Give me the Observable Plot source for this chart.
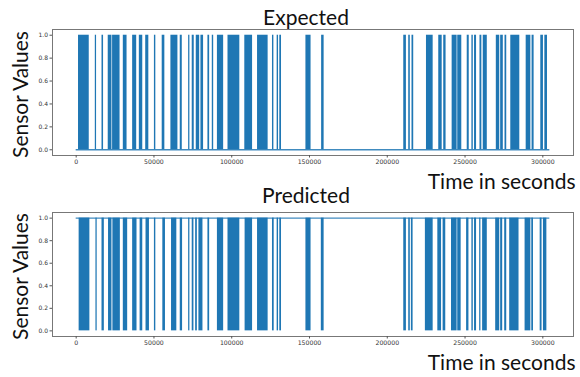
<!DOCTYPE html>
<html><head><meta charset="utf-8">
<script src="https://cdn.jsdelivr.net/npm/d3@7"></script>
<script src="https://cdn.jsdelivr.net/npm/@observablehq/plot@0.6"></script>
<style>
html,body{margin:0;padding:0;background:#fff;}
#chart{width:580px;height:377px;position:relative;overflow:hidden;background:#fff;}
#chart svg{display:block;}
</style></head><body><div id="chart"></div>
<script>
// time span of both recorded series (seconds)
const timeSpan = [0, 304500];
// intervals where the Expected sensor signal is active (seconds)
const expectedOn = [
  [1500, 8400], [12300, 13100], [16600, 17600], [20600, 23000], [23400, 28200],
  [30300, 32700], [36300, 38900], [40600, 42800], [44700, 46700], [50300, 51200],
  [55300, 57000], [60900, 65400], [66900, 68200], [72300, 73100], [74600, 75900],
  [77200, 79400], [80200, 81900], [84700, 85800], [87500, 88400], [90800, 94800],
  [97600, 105200], [108400, 113400], [116600, 123400], [126200, 127100], [129200, 130100],
  [130900, 132000], [147700, 151000], [157800, 159400], [210600, 212300], [213800, 214800],
  [215900, 217000], [225200, 229500], [233100, 235300], [236300, 237800], [241700, 244900],
  [245300, 247900], [251400, 252700], [254400, 255300], [256100, 257400], [259600, 260800],
  [261700, 264300], [270100, 272300], [272900, 274600], [275700, 276800], [279400, 285200],
  [289300, 292300], [293100, 294400], [298700, 300400], [301300, 303000]
];
// intervals where the Predicted sensor signal toggles (seconds)
const predictedOn = [
  [1900, 8800], [12700, 13500], [16600, 18100], [20800, 23000], [23600, 28400],
  [30300, 33100], [36300, 39100], [41100, 42800], [44900, 47100], [50300, 51200],
  [55700, 57400], [61300, 64700], [66900, 68400], [72300, 73100], [74600, 75700],
  [76800, 77900], [78900, 81500], [84700, 85800], [90800, 94800], [97600, 105200],
  [108600, 113400], [116600, 123400], [126200, 127300], [129200, 130100], [130900, 132000],
  [147700, 151000], [157600, 159400], [210600, 212300], [213800, 214800], [215500, 216600],
  [224500, 229500], [232500, 234900], [235900, 237600], [241300, 244900], [245300, 247500],
  [251000, 252500], [254400, 255300], [256100, 257400], [259400, 260200], [261300, 264300],
  [269700, 272300], [272900, 274200], [275500, 276800], [278700, 284700], [288600, 292300],
  [292900, 294000], [298300, 299500], [300400, 302600]
];
const expectedBaseline = [0];
const predictedBaseline = [1];
const xTicks = [0, 50000, 100000, 150000, 200000, 250000, 300000];
const yTicks = [0, 0.2, 0.4, 0.6, 0.8, 1.0];
const titles = ["Expected", "Predicted"];
const xLabel = ["Time in seconds"];
const yLabel = ["Sensor Values"];

const blue = "#1f77b4";
const labelFont = "Lato, 'Open Sans', sans-serif";

function panel({title, intervals, baseline, height, marginTop, marginBottom, titleDy}) {
  return Plot.plot({
    width: 580, height, marginTop, marginBottom, marginLeft: 52, marginRight: 7,
    style: {background: "transparent", overflow: "visible", fontFamily: "DejaVu Sans, sans-serif"},
    x: {domain: [-15225, 319725]},
    y: {domain: [-0.05, 1.05]},
    marks: [
      Plot.rect(intervals, {x1: d => d[0], x2: d => d[1], y1: 0, y2: 1, fill: blue}),
      Plot.ruleY(baseline, {x1: timeSpan[0], x2: timeSpan[1], stroke: blue, strokeWidth: 1.3, strokeOpacity: 0.85}),
      Plot.frame({stroke: "#777", strokeWidth: 1}),
      Plot.axisY({ticks: yTicks, tickFormat: d3.format(".1f"), tickSize: 2.5, tickPadding: 2, fontSize: 6, label: null, stroke: "#555", fill: "#333"}),
      Plot.axisX({ticks: xTicks, tickFormat: d => String(d), tickSize: 2.5, tickPadding: 2, fontSize: 6.2, label: null, stroke: "#555", fill: "#333"}),
      Plot.text([title], {frameAnchor: "top", lineAnchor: "bottom", dy: titleDy, dx: -7, fontSize: 21, fontFamily: labelFont, fill: "#111"}),
      Plot.text(xLabel, {frameAnchor: "bottom-right", textAnchor: "end", lineAnchor: "bottom", dx: 2, dy: 33, fontSize: 21, fontFamily: labelFont, fill: "#111"}),
      Plot.text(yLabel, {frameAnchor: "left", textAnchor: "middle", lineAnchor: "middle", rotate: -90, dx: -31, dy: 2, fontSize: 21, fontFamily: labelFont, fill: "#111"})
    ]
  });
}

const chart = document.getElementById("chart");
chart.appendChild(panel({title: titles[0], intervals: expectedOn, baseline: expectedBaseline, height: 188, marginTop: 29, marginBottom: 33, titleDy: -5}));
chart.appendChild(panel({title: titles[1], intervals: predictedOn, baseline: predictedBaseline, height: 189, marginTop: 24, marginBottom: 41, titleDy: -10}));
</script>
</body></html>
